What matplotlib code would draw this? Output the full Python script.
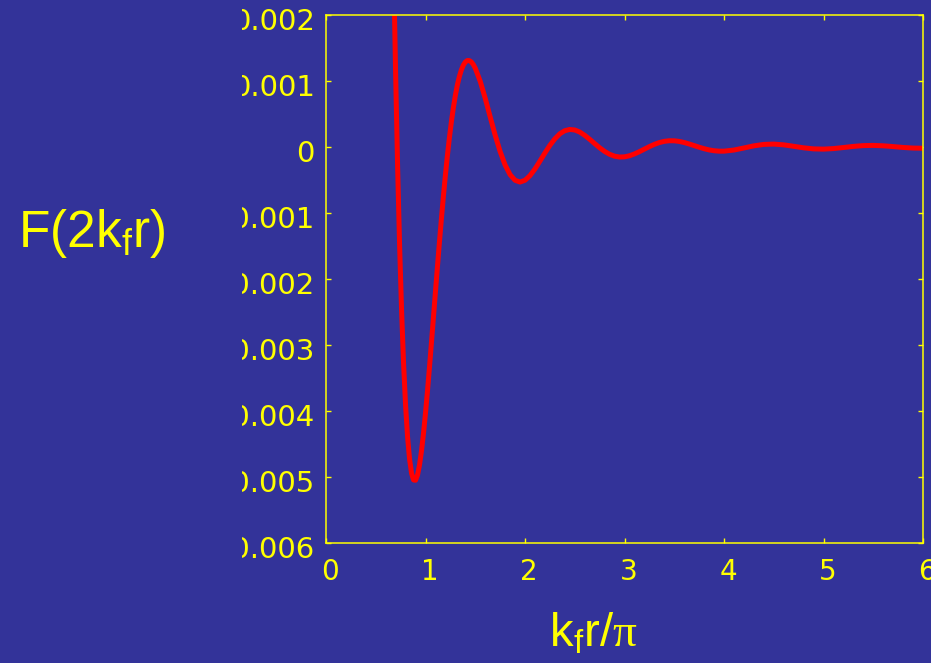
import matplotlib
matplotlib.use("Agg")
import matplotlib.pyplot as plt
from matplotlib.patches import Rectangle
from matplotlib.transforms import ScaledTranslation

# k_f r / pi  values
t_vals = [0.68, 0.69, 0.70, 0.72, 0.74, 0.76, 0.78, 0.80, 0.82, 0.84, 0.86, 0.88,
          0.90, 0.92, 0.94, 0.96, 0.98, 1.00, 1.02, 1.04, 1.06, 1.08, 1.10, 1.12,
          1.14, 1.16, 1.18, 1.20, 1.22, 1.24, 1.26, 1.28, 1.30, 1.32, 1.34, 1.36,
          1.38, 1.40, 1.42, 1.44, 1.46, 1.48, 1.50, 1.55, 1.60, 1.65, 1.70, 1.75,
          1.80, 1.85, 1.90, 1.95, 2.00, 2.05, 2.10, 2.15, 2.20, 2.25, 2.30, 2.35,
          2.40, 2.45, 2.50, 2.55, 2.60, 2.65, 2.70, 2.75, 2.80, 2.85, 2.90, 2.95,
          3.00, 3.05, 3.10, 3.15, 3.20, 3.25, 3.30, 3.35, 3.40, 3.45, 3.50, 3.55,
          3.60, 3.65, 3.70, 3.75, 3.80, 3.85, 3.90, 3.95, 4.00, 4.10, 4.20, 4.30,
          4.40, 4.50, 4.60, 4.70, 4.80, 4.90, 5.00, 5.10, 5.20, 5.30, 5.40, 5.50,
          5.60, 5.70, 5.80, 5.90, 6.00]
# F(2 k_f r) values
f_vals = [0.002744, 0.001885, 0.001090, -0.000321, -0.001511, -0.002496, -0.003295,
          -0.003923, -0.004398, -0.004732, -0.004944, -0.005045, -0.005049, -0.004969,
          -0.004816, -0.004601, -0.004337, -0.004032, -0.003695, -0.003335, -0.002960,
          -0.002577, -0.002193, -0.001813, -0.001442, -0.001085, -0.000745, -0.000427,
          -0.000132, 0.000138, 0.000381, 0.000595, 0.000781, 0.000938, 0.001066,
          0.001166, 0.001239, 0.001287, 0.001310, 0.001310, 0.001290, 0.001251,
          0.001194, 0.000995, 0.000739, 0.000457, 0.000180, -0.0000684, -0.000272,
          -0.000419, -0.000504, -0.000531, -0.000504, -0.000434, -0.000333, -0.000214,
          -0.0000909, 0.0000250, 0.000124, 0.000200, 0.000247, 0.000266, 0.000258,
          0.000227, 0.000177, 0.000117, 0.0000518, -0.0000112, -0.0000667, -0.000110,
          -0.000139, -0.000152, -0.000149, -0.000133, -0.000105, -0.0000705, -0.0000322,
          0.0000058, 0.0000398, 0.0000672, 0.0000858, 0.0000948, 0.0000940, 0.0000845,
          0.0000677, 0.0000458, 0.0000213, -0.0000032, -0.0000256, -0.0000439,
          -0.0000566, -0.0000630, -0.0000630, -0.0000460, -0.0000149, 0.0000175,
          0.0000393, 0.0000442, 0.0000327, 0.0000107, -0.0000124, -0.0000284,
          -0.0000323, -0.0000240, -0.0000080, 0.0000091, 0.0000212, 0.0000242,
          0.0000182, 0.0000062, -0.0000069, -0.0000162, -0.0000187]

x_ticks = [0, 1, 2, 3, 4, 5, 6]
x_tick_labels = ["0", "1", "2", "3", "4", "5", "6"]
y_ticks = [-0.006, -0.005, -0.004, -0.003, -0.002, -0.001, 0.0, 0.001, 0.002]
y_tick_labels = ["-0.006", "-0.005", "-0.004", "-0.003", "-0.002", "-0.001",
                 "0", "0.001", "0.002"]

BG = "#333399"
YEL = "#FFFF00"
RED = "#FF0000"

plt.rcParams["font.family"] = ["Liberation Sans", "DejaVu Sans"]
plt.rcParams["mathtext.fontset"] = "custom"
plt.rcParams["mathtext.rm"] = "Liberation Sans"
plt.rcParams["mathtext.it"] = "Liberation Sans"
plt.rcParams["mathtext.sf"] = "Liberation Serif"
plt.rcParams["mathtext.default"] = "regular"

W, H = 931, 663
fig = plt.figure(figsize=(W / 100, H / 100), dpi=100, facecolor=BG)
ax = fig.add_axes([326 / W, 1 - 543 / H, (923 - 326) / W, (543 - 15) / H])
ax.set_facecolor(BG)

ax.plot(t_vals, f_vals, color=RED, lw=3.6, solid_capstyle="round")

ax.set_xlim(0, 6)
ax.set_ylim(-0.006, 0.002)
ax.set_xticks(x_ticks)
ax.set_xticklabels(x_tick_labels)
ax.set_yticks(y_ticks)
ax.set_yticklabels(y_tick_labels)

for sp in ax.spines.values():
    sp.set_color(YEL)
    sp.set_linewidth(1.1)

ax.tick_params(axis="both", direction="in", length=3.5, width=1.0, color=YEL,
               labelcolor=YEL, labelfontfamily="DejaVu Sans", top=True, right=True)
ax.tick_params(axis="y", pad=8.0, labelsize=21)
ax.tick_params(axis="x", pad=10.5, labelsize=20)

dx = ScaledTranslation(0.04, 0, fig.dpi_scale_trans)
for lab in ax.get_xticklabels():
    lab.set_transform(lab.get_transform() + dx)
dy = ScaledTranslation(0, -0.045, fig.dpi_scale_trans)
for lab in ax.get_yticklabels():
    lab.set_transform(lab.get_transform() + dy)

# the left part of the tick labels is hidden in the reference
fig.add_artist(Rectangle((172 / W, 0), (242.3 - 172) / W, 1, transform=fig.transFigure,
                         facecolor=BG, edgecolor="none", zorder=10))

fig.text(18 / W, 1 - 246.7 / H, r"F(2k$_{\mathregular{f}}$r)", color=YEL, fontsize=37,
         ha="left", va="baseline", zorder=11)
fig.text(549 / W, 1 - 646.7 / H, r"k$_{\mathregular{f}}$r/$\mathsf{π}$", color=YEL,
         fontsize=34, ha="left", va="baseline", zorder=11)

fig.savefig("out.png", dpi=100, facecolor=BG)
